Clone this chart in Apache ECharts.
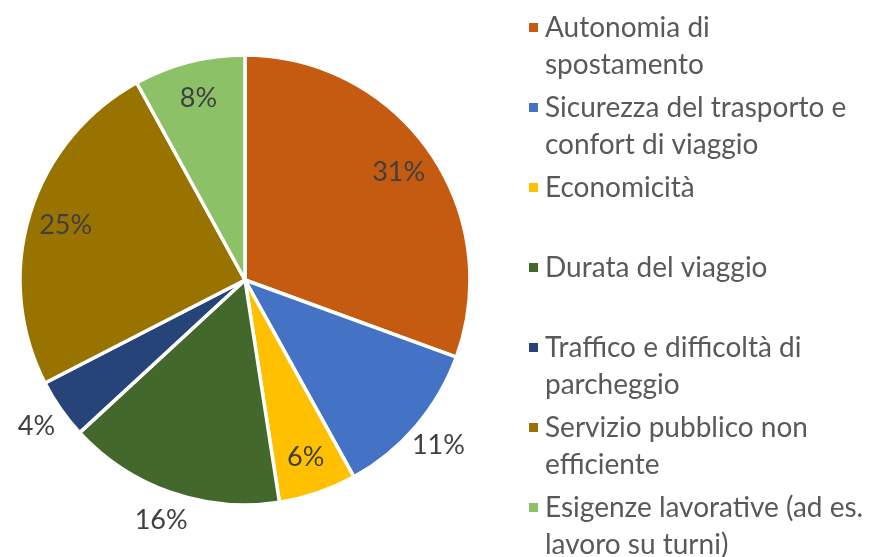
<!DOCTYPE html>
<html>
<head>
<meta charset="utf-8">
<script src="https://cdn.jsdelivr.net/npm/echarts@6/dist/echarts.min.js"></script>
<style>
  html, body { margin: 0; padding: 0; background: #fff; }
  #chart { width: 873px; height: 557px; }
</style>
</head>
<body>
<div id="chart"></div>
<script>
// categorie (a capo come nella legenda originale)
const categories = [
  'Autonomia di\nspostamento',
  'Sicurezza del trasporto e\nconfort di viaggio',
  'Economicità',
  'Durata del viaggio',
  'Traffico e difficoltà di\nparcheggio',
  'Servizio pubblico non\nefficiente',
  'Esigenze lavorative (ad es.\nlavoro su turni)'
];
// percentuali
const values = [30.6, 11.4, 5.6, 15.6, 4.3, 24.6, 8.0];
const colors = ['#C55A11', '#4472C4', '#FFC000', '#43682B', '#264478', '#997300', '#8CC168'];
// dove sta l'etichetta: dentro la fetta o fuori
const labelPlace = ['in', 'out', 'in', 'out', 'out', 'in', 'in'];

const chart = echarts.init(document.getElementById('chart'));

const sliceData = categories.map((name, i) => ({
  name: name,
  value: values[i],
  itemStyle: { color: colors[i] }
}));

function labelSeries(place, radius) {
  return {
    type: 'pie',
    center: [245, 280],
    radius: radius,
    silent: true,
    legendHoverLink: false,
    itemStyle: { color: 'transparent', borderWidth: 0 },
    emphasis: { disabled: true },
    label: {
      position: 'inside',
      color: '#404040',
      fontFamily: 'Lato',
      fontSize: 27,
      formatter: p => labelPlace[p.dataIndex] === place ? Math.round(p.percent) + '%' : ''
    },
    labelLine: { show: false },
    data: categories.map((name, i) => ({ name: name, value: values[i] })),
    z: 3
  };
}

const option = {
  backgroundColor: '#fff',
  animation: false,
  legend: {
    orient: 'vertical',
    left: 522,
    top: -33,
    height: 640,
    itemWidth: 11,
    itemHeight: 11,
    itemGap: -31,
    icon: 'rect',
    textStyle: {
      color: '#595959',
      fontFamily: 'Lato',
      fontSize: 28,
      lineHeight: 37,
      padding: [0, 0, 0, 1]
    },
    // riga vuota sopra e, se serve, sotto: cosi' il quadratino sta sulla prima riga
    formatter: name => '\n' + name + (name.indexOf('\n') < 0 ? '\n ' : ''),
    data: categories
  },
  series: [
    {
      type: 'pie',
      center: [245, 280],
      radius: 225,
      startAngle: 90,
      clockwise: true,
      silent: true,
      itemStyle: { borderColor: '#fff', borderWidth: 3.5 },
      label: { show: false },
      labelLine: { show: false },
      data: sliceData
    },
    labelSeries('in', [144, 225]),
    labelSeries('out', [225, 278])
  ]
};

chart.setOption(option);
</script>
</body>
</html>
